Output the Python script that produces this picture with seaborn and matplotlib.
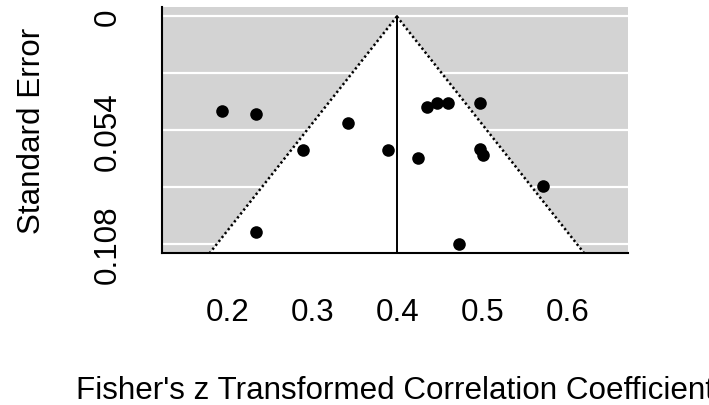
import numpy as np
import pandas as pd
import matplotlib
matplotlib.use("Agg")
import matplotlib.pyplot as plt
import seaborn as sns

# Data
effect = [0.193, 0.233, 0.342, 0.288, 0.389, 0.424, 0.435, 0.446, 0.459, 0.497,
          0.497, 0.500, 0.571, 0.233, 0.472]
std_err = [0.0451, 0.0461, 0.0508, 0.0634, 0.0634, 0.0670, 0.0432, 0.0413, 0.0413, 0.0412,
           0.0629, 0.0660, 0.0803, 0.1021, 0.1080]
pooled_estimate = 0.399
crit = 1.96
x_ticks = [0.2, 0.3, 0.4, 0.5, 0.6]
x_tick_labels = ["0.2", "0.3", "0.4", "0.5", "0.6"]
y_ticks = [0.0, 0.027, 0.054, 0.081, 0.108]
y_tick_labels = ["0", "", "0.054", "", "0.108"]
x_label = "Fisher's z Transformed Correlation Coefficient"
y_label = "Standard Error"

df = pd.DataFrame({"effect": effect, "se": std_err})

sns.set_theme(style="white")
plt.rcParams["font.family"] = ["Liberation Sans", "DejaVu Sans"]
FS = 22.6
plt.rcParams["font.size"] = FS

fig = plt.figure(figsize=(7.09, 4.06), dpi=100)
ax = fig.add_axes([0.2285, 0.3744, 0.8858 - 0.2285, 0.9803 - 0.3744])

xlim = (0.1227, 0.6709)
ylim_bottom = 0.1123
ylim_top = -0.0045
ax.set_xlim(*xlim)
ax.set_ylim(ylim_bottom, ylim_top)

# grey background with white gridlines
ax.set_facecolor("#D3D3D3")
for yt in y_ticks:
    ax.axhline(yt, color="white", lw=1.6, zorder=0.5)

# white funnel
se_line = np.array([0.0, ylim_bottom])
ax.fill(
    [pooled_estimate - crit * ylim_bottom, pooled_estimate, pooled_estimate + crit * ylim_bottom],
    [ylim_bottom, 0.0, ylim_bottom],
    color="white", zorder=1, lw=0,
)
ax.plot(pooled_estimate - crit * se_line, se_line, color="black", lw=1.8,
        linestyle=(0, (0.9, 1.1)), zorder=2)
ax.plot(pooled_estimate + crit * se_line, se_line, color="black", lw=1.8,
        linestyle=(0, (0.9, 1.1)), zorder=2)
ax.plot([pooled_estimate, pooled_estimate], [0.0, ylim_bottom], color="black", lw=1.4, zorder=2)

sns.scatterplot(data=df, x="effect", y="se", ax=ax, color="black", s=82,
                edgecolor="black", linewidth=0, zorder=3, clip_on=False)

ax.set_xticks(x_ticks)
ax.set_xticklabels(x_tick_labels)
ax.set_yticks(y_ticks)
ax.set_yticklabels(y_tick_labels, rotation=90, va="center")

for side in ["top", "right"]:
    ax.spines[side].set_visible(False)
for side in ["left", "bottom"]:
    ax.spines[side].set_color("black")
    ax.spines[side].set_linewidth(1.5)

ax.tick_params(axis="both", which="both", direction="out", length=14, width=1.5,
               color="black", labelsize=FS, labelcolor="black")
ax.tick_params(axis="x", pad=18)
ax.tick_params(axis="y", pad=14)

ax.set_xlabel(x_label, fontsize=FS, labelpad=34, color="black")
ax.set_ylabel(y_label, fontsize=FS, labelpad=33, color="black")

fig.savefig("out.png", dpi=100)
